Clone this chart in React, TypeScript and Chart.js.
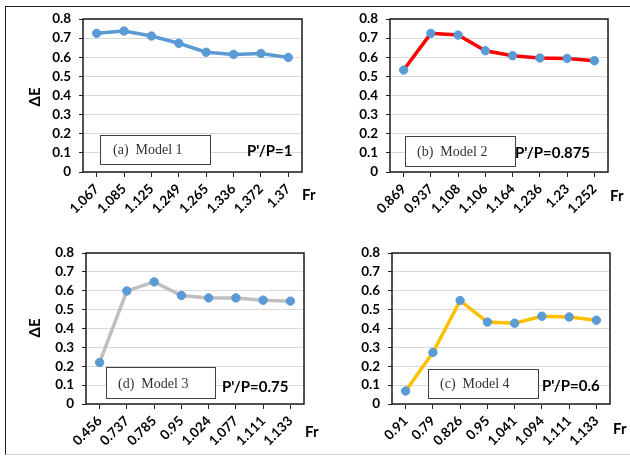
import React, { useEffect, useRef } from 'react';
import { Chart, registerables } from 'chart.js';

Chart.register(...registerables);

// ---- data ----
const model1Fr = ['1.067', '1.085', '1.125', '1.249', '1.265', '1.336', '1.372', '1.37'];
const model1DE = [0.725, 0.737, 0.711, 0.673, 0.626, 0.615, 0.62, 0.599];

const model2Fr = ['0.869', '0.937', '1.108', '1.106', '1.164', '1.236', '1.23', '1.252'];
const model2DE = [0.533, 0.725, 0.716, 0.634, 0.608, 0.596, 0.594, 0.582];

const model3Fr = ['0.456', '0.737', '0.785', '0.95', '1.024', '1.077', '1.111', '1.133'];
const model3DE = [0.22, 0.599, 0.647, 0.575, 0.562, 0.562, 0.55, 0.545];

const model4Fr = ['0.91', '0.79', '0.826', '0.95', '1.041', '1.094', '1.111', '1.133'];
const model4DE = [0.069, 0.273, 0.548, 0.434, 0.428, 0.465, 0.461, 0.444];

const Y_MIN = 0;
const Y_MAX = 0.8;
const Y_STEP = 0.1;

// ---- layout / style ----
const W = 630;
const H = 457;
const Y_W = 50;
const X_H = 45;
const FONT = 'Lato, "Open Sans", "DejaVu Sans", sans-serif';
const SERIF = '"Liberation Serif", "DejaVu Serif", serif';
const MARKER = '#5B9BD5';

type Panel = {
  labels: string[];
  values: number[];
  color: string;
  area: { l: number; t: number; r: number; b: number };
  tag: string;
  ratio: string;
  box: { x: number; y: number; w: number; h: number };
  tagPos: { x: number; y: number };
  ratioPos: { x: number; y: number };
  fr: { x: number; y: number };
  de: { x: number; y: number } | null;
};

const panels: Panel[] = [
  {
    labels: model1Fr, values: model1DE, color: '#5B9BD5',
    area: { l: 83, t: 19, r: 302, b: 172 },
    tag: '(a)  Model 1', ratio: "P'/P=1",
    box: { x: 100, y: 135, w: 110, h: 29 },
    tagPos: { x: 113, y: 150 }, ratioPos: { x: 247, y: 151 },
    fr: { x: 302, y: 195 }, de: { x: 35, y: 97 },
  },
  {
    labels: model2Fr, values: model2DE, color: '#FF0000',
    area: { l: 390, t: 19, r: 608, b: 172 },
    tag: '(b)  Model 2', ratio: "P'/P=0.875",
    box: { x: 405, y: 136, w: 110, h: 30 },
    tagPos: { x: 417, y: 152 }, ratioPos: { x: 515, y: 153 },
    fr: { x: 610, y: 196 }, de: null,
  },
  {
    labels: model3Fr, values: model3DE, color: '#BFBFBF',
    area: { l: 86, t: 253, r: 304, b: 404 },
    tag: '(d)  Model 3', ratio: "P'/P=0.75",
    box: { x: 106, y: 367, w: 109, h: 31 },
    tagPos: { x: 118, y: 384 }, ratioPos: { x: 222, y: 387 },
    fr: { x: 305, y: 432 }, de: { x: 35, y: 328 },
  },
  {
    labels: model4Fr, values: model4DE, color: '#FFC000',
    area: { l: 392, t: 253, r: 610, b: 404 },
    tag: '(c)  Model 4', ratio: "P'/P=0.6",
    box: { x: 428, y: 369, w: 110, h: 29 },
    tagPos: { x: 440, y: 384 }, ratioPos: { x: 542, y: 386 },
    fr: { x: 613, y: 429 }, de: null,
  },
];

function PanelChart({ p }: { p: Panel }) {
  const ref = useRef<HTMLCanvasElement | null>(null);
  useEffect(() => {
    if (!ref.current) return;
    const decor = {
      id: 'decor',
      beforeDatasetsDraw(chart: any) {
        const { ctx, chartArea: a } = chart;
        ctx.save();
        ctx.strokeStyle = '#1a1a1a';
        ctx.lineWidth = 1.5;
        ctx.strokeRect(a.left, a.top, a.right - a.left, a.bottom - a.top);
        ctx.restore();
      },
      afterDraw(chart: any) {
        const ctx = chart.ctx;
        ctx.save();
        // annotation box
        ctx.fillStyle = '#ffffff';
        ctx.fillRect(p.box.x, p.box.y, p.box.w, p.box.h);
        ctx.strokeStyle = '#404040';
        ctx.lineWidth = 1;
        ctx.strokeRect(p.box.x + 0.5, p.box.y + 0.5, p.box.w, p.box.h);
        ctx.fillStyle = '#333333';
        ctx.font = `14px ${SERIF}`;
        ctx.textBaseline = 'middle';
        ctx.textAlign = 'left';
        ctx.fillText(p.tag, p.tagPos.x, p.tagPos.y);
        // ratio
        ctx.fillStyle = '#000000';
        ctx.font = `bold 15px ${FONT}`;
        ctx.fillText(p.ratio, p.ratioPos.x, p.ratioPos.y);
        // Fr
        ctx.font = `bold 15px ${FONT}`;
        ctx.fillText('Fr', p.fr.x, p.fr.y);
        // ΔE
        if (p.de) {
          ctx.translate(p.de.x, p.de.y);
          ctx.rotate(-Math.PI / 2);
          ctx.textAlign = 'center';
          ctx.font = `bold 15px ${FONT}`;
          ctx.fillText('ΔE', 0, 0);
        }
        ctx.restore();
      },
    };
    const chart = new Chart(ref.current, {
      type: 'line',
      data: {
        labels: p.labels,
        datasets: [
          {
            data: p.values,
            borderColor: p.color,
            borderWidth: 3.5,
            pointBackgroundColor: MARKER,
            pointBorderColor: MARKER,
            pointBorderWidth: 1,
            pointRadius: 4.2,
            tension: 0,
            fill: false,
          },
        ],
      },
      options: {
        responsive: false,
        animation: false,
        devicePixelRatio: 1,
        layout: {
          padding: {
            left: p.area.l - Y_W,
            top: p.area.t,
            right: W - p.area.r,
            bottom: H - p.area.b - X_H,
          },
        },
        plugins: { legend: { display: false }, tooltip: { enabled: false } },
        scales: {
          x: {
            offset: true,
            border: { display: false },
            grid: {
              display: true,
              drawOnChartArea: false,
              drawTicks: true,
              tickLength: 5,
              tickColor: '#222',
              tickWidth: 1,
            },
            ticks: {
              autoSkip: false,
              minRotation: 45,
              maxRotation: 45,
              padding: 4,
              color: '#000',
              font: { family: FONT, size: 13.5, weight: 'bold' },
            },
            afterFit: (s: any) => {
              s.height = X_H;
            },
          },
          y: {
            min: Y_MIN,
            max: Y_MAX,
            border: { display: false },
            grid: { color: '#D9D9D9', lineWidth: 1, tickLength: 4, tickColor: '#222' },
            ticks: {
              autoSkip: false,
              stepSize: Y_STEP,
              padding: 8,
              color: '#000',
              font: { family: FONT, size: 13.5, weight: 'bold' },
              callback: (v: any) => (Math.abs(Number(v)) < 1e-9 ? '0' : Number(v).toFixed(1)),
            },
            afterFit: (s: any) => {
              s.width = Y_W;
            },
          },
        },
      },
      plugins: [decor],
    } as any);
    return () => chart.destroy();
  }, [p]);
  return (
    <canvas
      ref={ref}
      width={W}
      height={H}
      style={{ position: 'absolute', left: 0, top: 0, width: W, height: H }}
    />
  );
}

export default function App() {
  return (
    <div
      style={{
        position: 'absolute',
        left: 0,
        top: 0,
        width: W,
        height: H,
        overflow: 'hidden',
        background: '#fff',
      }}
    >
      <div
        style={{
          position: 'absolute',
          left: 5,
          top: 6,
          width: W,
          height: 449,
          borderLeft: '1.5px solid #222',
          borderTop: '1.5px solid #222',
          borderBottom: '1px solid #d0d0d0',
          boxSizing: 'border-box',
        }}
      />
      {panels.map((p, i) => (
        <PanelChart key={i} p={p} />
      ))}
    </div>
  );
}
